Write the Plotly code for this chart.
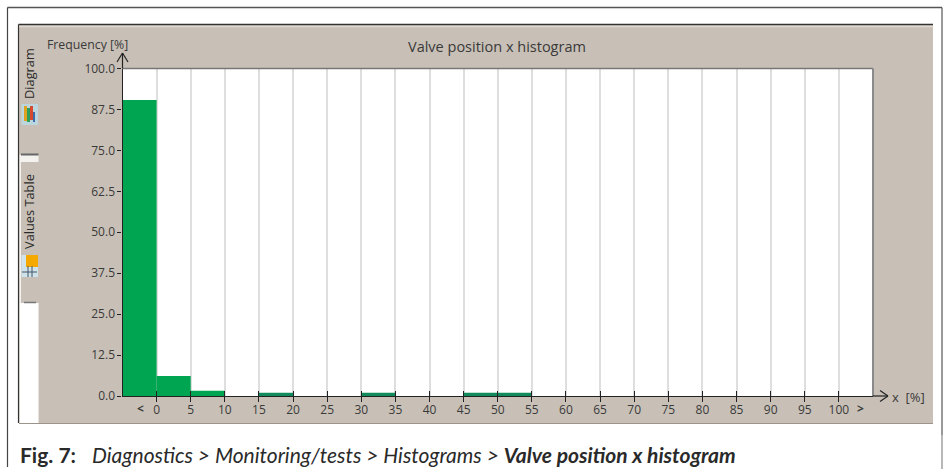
import plotly.graph_objects as go

W, H = 943, 469
# ---- data ----
bin_starts = [-5, 0, 5, 10, 15, 20, 25, 30, 35, 40, 45, 50, 55, 60, 65, 70, 75, 80, 85, 90, 95, 100]
frequency = [90.4, 6.1, 1.6, 0, 1.0, 0, 0, 1.0, 0, 0, 1.0, 1.0, 0, 0, 0, 0, 0, 0, 0, 0, 0, 0]
x_ticks = list(range(0, 105, 5))
y_ticks = [0, 12.5, 25, 37.5, 50, 62.5, 75, 87.5, 100]
y_labels = ["0.0", "12.5", "25.0", "37.5", "50.0", "62.5", "75.0", "87.5", "100.0"]
title = "Valve position x histogram"
y_name = "Frequency [%]"
x_name = "x  [%]"
caption = "<b>Fig. 7:</b>\u00a0\u00a0\u00a0<i>Diagnostics &gt; Monitoring/tests &gt; Histograms &gt; </i><b><i>Valve position x histogram</i></b>"

# ---- layout helpers (pixels to paper) ----
def px(x): return x / W
def py(y): return 1 - y / H

L, R, T, B = 122.5, 873, 68.5, 396
PANEL = "#C8C0B6"
FONT = "Open Sans"
INK = "#3a3a3a"

def rect(x0, y0, x1, y1, fill, line=None, lw=0):
    return dict(type="rect", xref="paper", yref="paper", x0=px(x0), x1=px(x1), y0=py(y0), y1=py(y1),
                fillcolor=fill, line=dict(color=line or fill, width=lw), layer="below")

def seg(x0, y0, x1, y1, color, lw=1, layer="above"):
    return dict(type="line", xref="paper", yref="paper", x0=px(x0), x1=px(x1), y0=py(y0), y1=py(y1),
                line=dict(color=color, width=lw), layer=layer)

shapes = [
    seg(7.5, 7.5, 942, 7.5, "#555555", 1.5),
    seg(7.5, 7.5, 7.5, 467, "#444444", 1.2),
    seg(942, 7.5, 942, 435, "#555555", 1.2),
    seg(942, 435, 942, 469, "#888888", 1.2),
    rect(19, 25, 933, 423, PANEL),
    rect(L, T, R, B, "#FFFFFF"),
    seg(18.5, 24.5, 933, 24.5, "#333333", 1.5),
    seg(18.5, 24.5, 18.5, 423, "#333333", 1.2),
    seg(19, 423.5, 933, 423.5, "#9a948b", 1.2),
    seg(19, 26.5, 933, 26.5, "#DDD8D0", 1.5),
    # side tabs
    rect(19.5, 155, 38.5, 162, "#F4F2EE"),
    rect(19.5, 162, 21, 303, "#F4F2EE"),
    rect(19.5, 303, 38.5, 423, "#FFFFFF"),
    seg(21, 154.5, 38.5, 154.5, "#666666", 2),
    seg(24, 302.5, 36, 302.5, "#777777", 1.5),
    # Diagram icon
    rect(21.5, 104, 38, 125, "#BBD6DE"),
    rect(24, 106, 27, 121, "#E0A020"),
    rect(27, 108, 30, 122, "#2E9E58"),
    rect(30, 106, 33, 120, "#D84A30"),
    rect(33, 112, 35, 122, "#3A6EA8"),
    # Values Table icon
    rect(21.5, 255, 38, 277, "#CFE3EA"),
    rect(26, 255, 38, 267, "#F5A800"),
    seg(22, 272, 37, 272, "#445566", 1),
    seg(28, 266, 28, 277, "#445566", 1),
    seg(32, 266, 32, 277, "#445566", 1),
    # plot frame and axis arrows
    seg(L, T, R, T, "#777777", 1.5),
    seg(R, T, R, B, "#8a8a8a", 2),
    seg(L, T, L, 53, "#222222", 1.2),
    seg(L - 5.5, 62, L, 53, "#222222", 1.2),
    seg(L + 5.5, 62, L, 53, "#222222", 1.2),
    seg(R, B, 888, B, "#222222", 1.2),
    seg(880, B - 5.5, 888, B, "#222222", 1.2),
    seg(880, B + 5.5, 888, B, "#222222", 1.2),
]

def note(text, x, y, size=12, color=INK, angle=0, anchor="center", family=FONT):
    return dict(text=text, xref="paper", yref="paper", x=px(x), y=py(y), showarrow=False,
                xanchor=anchor, yanchor="middle", textangle=angle,
                font=dict(family=family, size=size, color=color))

annotations = [
    note(title, 497, 47, 14.5),
    note(y_name, 87.5, 44, 12.3),
    note(x_name, 908.5, 397, 13),
    note("<b>&lt;</b>", 140, 408, 12),
    note("<b>&gt;</b>", 860, 408, 12),
    note("Diagram", 28.5, 73.5, 12.8, "#2a2a2a", -90),
    note("Values Table", 29, 212, 12.8, "#2a2a2a", -90),
    note(caption, 18, 454.5, 21, "#2a2a2a", anchor="left", family="Lato"),
]

bar_colors = ["#128A5C" if v <= 1 else "#00A551" for v in frequency]

fig = go.Figure(go.Bar(
    x=[s + 2.5 for s in bin_starts], y=frequency, width=5,
    marker=dict(color=bar_colors, line=dict(width=0)),
    hoverinfo="skip",
))

fig.update_layout(
    width=W, height=H, margin=dict(l=0, r=0, t=0, b=0, pad=0, autoexpand=False),
    paper_bgcolor="#FFFFFF", plot_bgcolor="rgba(0,0,0,0)", showlegend=False,
    shapes=shapes, annotations=annotations,
    xaxis=dict(
        domain=[px(L), px(R)], range=[-5, 105], tickmode="array", tickvals=x_ticks,
        ticktext=[str(v) for v in x_ticks], ticks="outside", ticklen=5, tickwidth=1, tickcolor="#222222",
        ticklabelstandoff=-3,
        tickfont=dict(family=FONT, size=12, color=INK), showgrid=True, gridcolor="#DEDEDE", gridwidth=1.5,
        showline=True, linecolor="#222222", linewidth=1.2, zeroline=False,
        minor=dict(tickmode="array", tickvals=x_ticks + [-5, 105], ticks="inside", ticklen=5, tickcolor="#222222", tickwidth=1, showgrid=False),
    ),
    yaxis=dict(
        domain=[py(B), py(T)], range=[0, 100], tickmode="array", tickvals=y_ticks, ticktext=y_labels,
        ticks="outside", ticklen=4, tickwidth=1, tickcolor="#222222",
        tickfont=dict(family=FONT, size=12, color=INK), showgrid=False,
        showline=True, linecolor="#222222", linewidth=1.2, zeroline=False,
    ),
)

fig.write_html("out.html", config={"displayModeBar": False},
               post_script="document.documentElement.style.margin='0';document.body.style.margin='0';document.body.style.padding='0';document.body.style.overflow='hidden';")
